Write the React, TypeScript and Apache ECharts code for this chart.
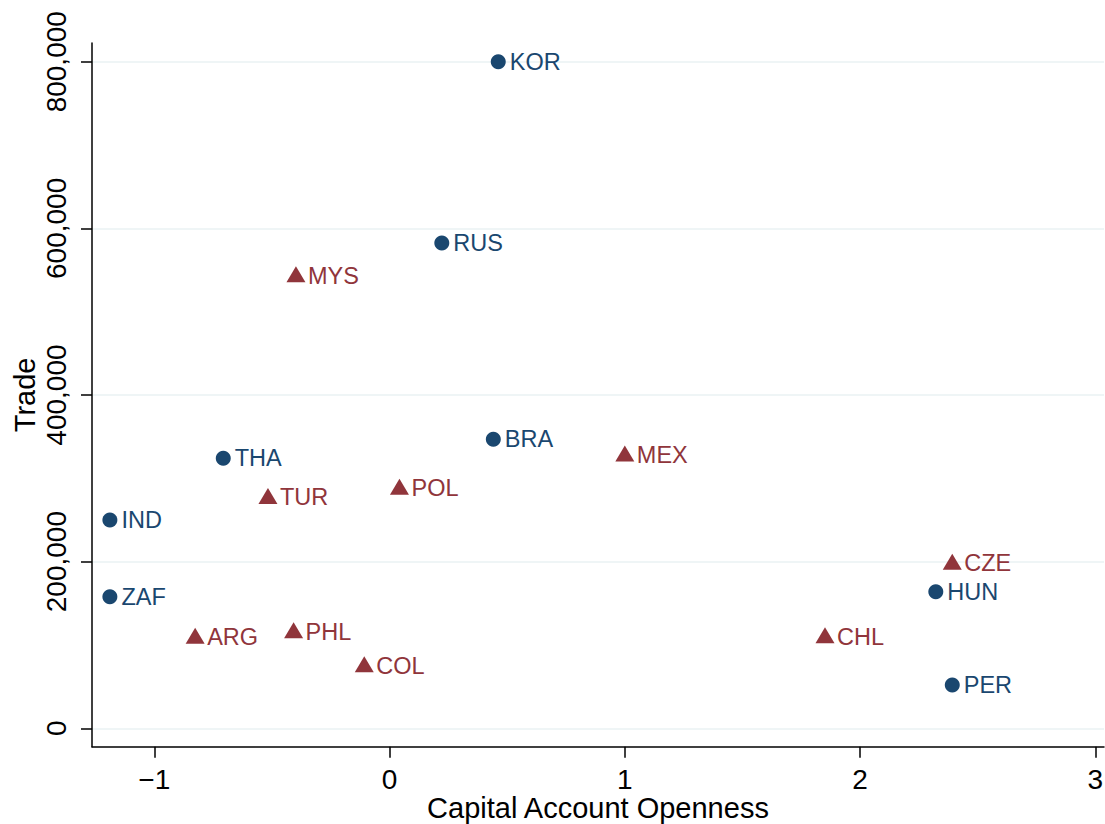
import React, { useEffect, useRef } from "react";
import * as echarts from "echarts";

const circleCountries = ["KOR", "RUS", "BRA", "THA", "IND", "HUN", "ZAF", "PER"];
const circleX = [0.462, 0.222, 0.441, -0.707, -1.189, 2.322, -1.189, 2.392];
const circleY = [800000, 582400, 346800, 324000, 250000, 163900, 157900, 52000];

const triangleCountries = ["MYS", "MEX", "POL", "TUR", "CZE", "ARG", "PHL", "CHL", "COL"];
const triangleX = [-0.398, 1.0, 0.042, -0.517, 2.392, -0.8265, -0.408, 1.851, -0.1076];
const triangleY = [543200, 328000, 288000, 277000, 198000, 109200, 115900, 109900, 75100];

const xTicks = [-1, 0, 1, 2, 3];
const yTicks = [0, 200000, 400000, 600000, 800000];

const NAVY = "#1a476f";
const MAROON = "#90353b";
const FONT = "'Liberation Sans', Arial, Helvetica, sans-serif";

export default function App() {
  const ref = useRef<HTMLDivElement>(null);
  useEffect(() => {
    if (!ref.current) return;
    const chart = echarts.init(ref.current, null, { renderer: "svg" });
    const circleData = circleCountries.map((n, i) => ({ name: n, value: [circleX[i], circleY[i]] }));
    const triData = triangleCountries.map((n, i) => ({ name: n, value: [triangleX[i], triangleY[i]] }));
    chart.setOption({
      animation: false,
      backgroundColor: "#ffffff",
      grid: { left: 92, right: 1, top: 43, bottom: 77.3, containLabel: false, outerBoundsMode: "none" },
      xAxis: {
        type: "value",
        min: -1.265,
        max: 3.037,
        name: "Capital Account Openness",
        nameLocation: "middle",
        nameGap: 47,
        nameMoveOverlap: false,
        nameTextStyle: { fontFamily: FONT, fontSize: 29, color: "#000", lineHeight: 28 },
        axisLine: { show: true, onZero: false, lineStyle: { color: "#000", width: 1.5 } },
        axisTick: { show: true, length: 11, lineStyle: { color: "#000", width: 1.5 }, customValues: xTicks },
        axisLabel: {
          customValues: xTicks,
          margin: 21,
          lineHeight: 24,
          fontFamily: FONT,
          fontSize: 28,
          color: "#000",
          formatter: (v: number) => (v < 0 ? "\u2212" + Math.abs(v) : String(v)),
        },
        splitLine: { show: false },
      },
      yAxis: {
        type: "value",
        min: -22100,
        max: 822500,
        name: "Trade",
        nameLocation: "middle",
        nameGap: 53,
        nameMoveOverlap: false,
        nameTextStyle: { fontFamily: FONT, fontSize: 29, color: "#000" },
        axisLine: { show: true, onZero: false, lineStyle: { color: "#000", width: 1.5 } },
        axisTick: { show: true, length: 11, lineStyle: { color: "#000", width: 1.5 }, customValues: yTicks },
        axisLabel: {
          customValues: yTicks,
          rotate: 90,
          margin: 22,
          fontFamily: FONT,
          fontSize: 28,
          color: "#000",
          formatter: (v: number) => v.toLocaleString("en-US"),
        },
        splitLine: { show: true, lineStyle: { color: "#eaf2f3", width: 1.5 } },
      },
      series: [
        {
          type: "scatter",
          data: circleData,
          symbol: "circle",
          symbolSize: 15,
          itemStyle: { color: NAVY, opacity: 1 },
          label: {
            show: true,
            position: "right",
            distance: 4,
            formatter: "{b}",
            fontFamily: FONT,
            fontSize: 23.5,
            color: NAVY,
          },
        },
        {
          type: "scatter",
          data: triData,
          symbol: "triangle",
          symbolSize: [19, 16],
          symbolOffset: [0, -1.5],
          itemStyle: { color: MAROON, opacity: 1 },
          label: {
            show: true,
            position: "right",
            distance: 2.5,
            offset: [0, 1.5],
            formatter: "{b}",
            fontFamily: FONT,
            fontSize: 23.5,
            color: MAROON,
          },
        },
      ],
    });
    return () => chart.dispose();
  }, []);
  return (
    <div
      ref={ref}
      style={{ position: "fixed", left: 0, top: 0, width: 1105, height: 824, background: "#fff" }}
    />
  );
}
